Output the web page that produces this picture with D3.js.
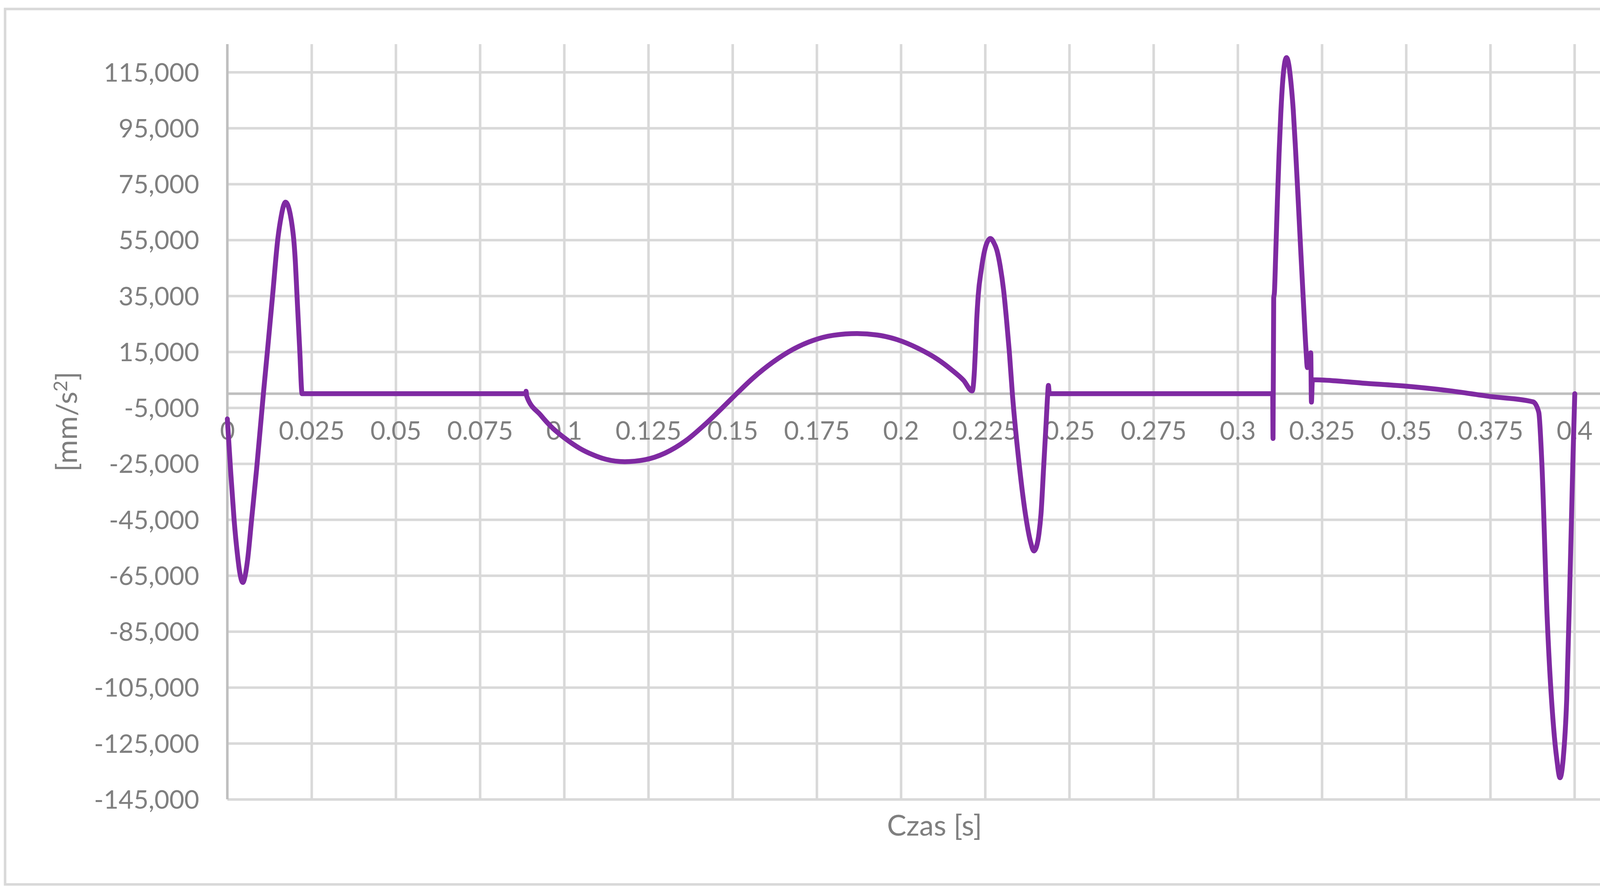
<!DOCTYPE html>
<html>
<head>
<meta charset="utf-8">
<script src="https://cdn.jsdelivr.net/npm/d3@7"></script>
<style>
  html, body { margin: 0; padding: 0; background: #ffffff; }
  svg { display: block; }
  text { font-family: Lato, "Open Sans", "Liberation Sans", sans-serif; fill: #7f7f7f; }
</style>
</head>
<body>
<script>
// ---- data ----
const timeS = [
  0, 0.0010, 0.0020, 0.0030, 0.0037, 0.0046, 0.0053, 0.0060, 0.0072, 0.0087,
  0.0107, 0.0120, 0.0135, 0.0150, 0.0160, 0.0167, 0.01728, 0.0180, 0.0187, 0.0193,
  0.0198, 0.0202, 0.02065, 0.0215, 0.0222, 0.0226, 0.0882, 0.0886, 0.0887, 0.0889,
  0.0930, 0.0965, 0.1001, 0.1046, 0.1085, 0.1123, 0.1180, 0.1240, 0.1300, 0.1360,
  0.1420, 0.1470, 0.1512, 0.1560, 0.1620, 0.1680, 0.1740, 0.1800, 0.1870, 0.1930,
  0.1990, 0.2050, 0.2109, 0.2148, 0.2186, 0.2212, 0.22185, 0.2222, 0.22251, 0.22297,
  0.22386, 0.22444, 0.22529, 0.2266, 0.2276, 0.2285, 0.2295, 0.2305, 0.2314, 0.2322,
  0.2331, 0.2351, 0.2372, 0.2385, 0.2395, 0.2403, 0.2410, 0.2416, 0.2424, 0.2431,
  0.2436, 0.2438, 0.2441, 0.2446, 0.3100, 0.3104, 0.3105, 0.3107, 0.3109, 0.3113,
  0.3118, 0.3123, 0.3128, 0.3133, 0.3138, 0.3145, 0.3152, 0.3158, 0.3165, 0.3172,
  0.3180, 0.3188, 0.3196, 0.3203, 0.3207, 0.3217, 0.3219, 0.3222, 0.3250, 0.3371,
  0.3500, 0.3624, 0.3750, 0.3877, 0.3894, 0.3903, 0.3919, 0.3938, 0.3948, 0.3957,
  0.3967, 0.3977, 0.3988, 0.3996, 0.4001
];
const accelMmS2 = [
  -9000, -28000, -45000, -57500, -64000, -67500, -65000, -59500, -45000, -26800,
  0, 16500, 36000, 55500, 63500, 67300, 68500, 67300, 64000, 59500,
  54000, 47000, 36000, 15500, 0, 0, 0, 0, 900, -900,
  -7600, -12200, -15800, -19500, -21800, -23400, -24300, -23600, -21200, -16900,
  -10800, -5000, 0, 5500, 11300, 15900, 19100, 20900, 21500, 21000,
  19300, 16300, 12300, 8800, 4800, 1000, 8600, 17500, 26400, 35300,
  44200, 48700, 53100, 55500, 54000, 51300, 45500, 37000, 26000, 15000,
  0, -24970, -44800, -53000, -56200, -54500, -50000, -43000, -26000, -11000,
  0, 3000, 0, 0, 0, 0, -16000, 34300, 36000, 50000,
  69000, 86000, 100000, 110500, 117000, 120200, 117500, 111500, 101500, 87000,
  68500, 49500, 31000, 15500, 9350, 14650, -3000, 5000, 4900, 3800,
  2700, 1150, -980, -2900, -6600, -24200, -80000, -119200, -131000, -137300,
  -130000, -109400, -60400, -21300, 0
];
const xTickValues = [0, 0.025, 0.05, 0.075, 0.1, 0.125, 0.15, 0.175, 0.2, 0.225, 0.25, 0.275, 0.3, 0.325, 0.35, 0.375, 0.4];
const xTickLabels = ["0", "0.025", "0.05", "0.075", "0.1", "0.125", "0.15", "0.175", "0.2", "0.225", "0.25", "0.275", "0.3", "0.325", "0.35", "0.375", "0.4"];
const yTickValues = [115000, 95000, 75000, 55000, 35000, 15000, -5000, -25000, -45000, -65000, -85000, -105000, -125000, -145000];
const yTickLabels = ["115,000", "95,000", "75,000", "55,000", "35,000", "15,000", "-5,000", "-25,000", "-45,000", "-65,000", "-85,000", "-105,000", "-125,000", "-145,000"];
const xDomain = [0, 0.42];
const yDomain = [-145000, 125000];
const xTitle = "Czas [s]";

// ---- layout ----
const W = 4395, H = 2287;
const plot = { left: 582, right: 4203, top: 113, bottom: 2047 };
const gridColor = "#d9d9d9", axisColor = "#bfbfbf", lineColor = "#7f2aa2";
const tickFont = 66, titleFont = 74;

const svg = d3.select("body").append("svg").attr("width", W).attr("height", H);

svg.append("rect").attr("x", 0).attr("y", 0).attr("width", W).attr("height", H).attr("fill", "#ffffff");
svg.append("rect").attr("x", 13).attr("y", 23).attr("width", 4360 - 13).attr("height", 2265 - 23)
  .attr("fill", "none").attr("stroke", gridColor).attr("stroke-width", 6.5);

const x = d3.scaleLinear().domain(xDomain).range([plot.left, plot.right]);
const y = d3.scaleLinear().domain(yDomain).range([plot.bottom, plot.top]);

// horizontal gridlines
const yGrid = svg.append("g").attr("transform", `translate(${plot.left},0)`)
  .call(d3.axisLeft(y).tickValues(yTickValues).tickSize(-(plot.right - plot.left)).tickFormat(""));
yGrid.select(".domain").remove();
yGrid.selectAll("line").attr("stroke", gridColor).attr("stroke-width", 6.5);

// vertical gridlines
const xGrid = svg.append("g").attr("transform", `translate(0,${plot.bottom})`)
  .call(d3.axisBottom(x).tickValues(xTickValues.filter(v => v > 0)).tickSize(-(plot.bottom - plot.top)).tickFormat(""));
xGrid.select(".domain").remove();
xGrid.selectAll("line").attr("stroke", gridColor).attr("stroke-width", 6.5);

// axis lines
svg.append("line").attr("x1", x(0)).attr("x2", x(0)).attr("y1", plot.top).attr("y2", plot.bottom)
  .attr("stroke", axisColor).attr("stroke-width", 6.5);
svg.append("line").attr("x1", plot.left).attr("x2", plot.right).attr("y1", y(0)).attr("y2", y(0))
  .attr("stroke", axisColor).attr("stroke-width", 6.5);

// y tick labels
const yAx = svg.append("g").attr("transform", `translate(${plot.left},0)`)
  .call(d3.axisLeft(y).tickValues(yTickValues).tickSize(0).tickPadding(72)
    .tickFormat((d, i) => yTickLabels[i]));
yAx.select(".domain").remove();
yAx.selectAll("text").attr("font-size", tickFont).attr("fill", "#7f7f7f")
  .attr("font-family", 'Lato, "Open Sans", sans-serif').attr("dy", "0.355em");

// x tick labels (next to the zero line)
const xAx = svg.append("g").attr("transform", `translate(0,${y(0)})`)
  .call(d3.axisBottom(x).tickValues(xTickValues).tickSize(0).tickPadding(0)
    .tickFormat((d, i) => xTickLabels[i]));
xAx.select(".domain").remove();
xAx.selectAll("text").attr("font-size", tickFont).attr("fill", "#7f7f7f")
  .attr("font-family", 'Lato, "Open Sans", sans-serif').attr("y", 118).attr("dy", 0);

// series
const pts = timeS.map((t, i) => [t, accelMmS2[i]]);
const line = d3.line().x(d => x(d[0])).y(d => y(d[1])).curve(d3.curveMonotoneX);
svg.append("path").attr("d", line(pts)).attr("fill", "none").attr("stroke", lineColor)
  .attr("stroke-width", 12.5).attr("stroke-linejoin", "round").attr("stroke-linecap", "round");

// axis titles
svg.append("text").attr("x", (plot.left + plot.right) / 2).attr("y", 2140)
  .attr("text-anchor", "middle").attr("font-size", titleFont).text(xTitle);

const yt = svg.append("text").attr("transform", `translate(197,${(plot.top + plot.bottom) / 2}) rotate(-90)`)
  .attr("text-anchor", "middle").attr("font-size", titleFont);
yt.append("tspan").text("[mm/s");
yt.append("tspan").attr("font-size", 49).attr("dy", -25).text("2");
yt.append("tspan").attr("dy", 25).text("]");
</script>
</body>
</html>
